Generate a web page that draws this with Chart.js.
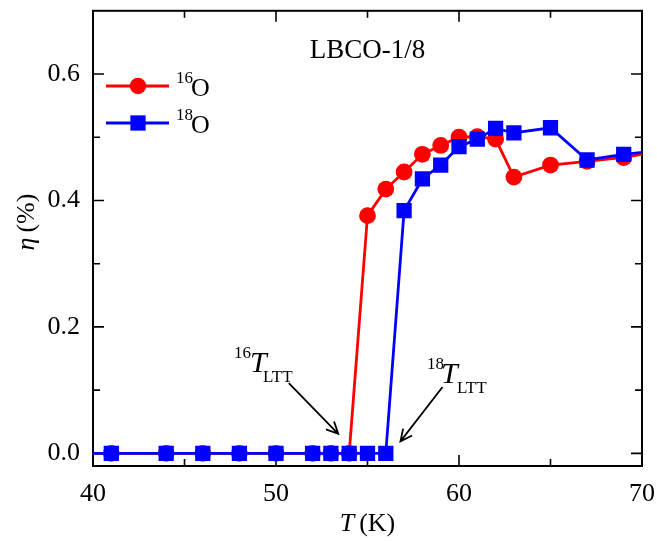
<!DOCTYPE html>
<html>
<head>
<meta charset="utf-8">
<script src="https://cdn.jsdelivr.net/npm/chart.js@4/dist/chart.umd.min.js"></script>
<style>
  html, body { margin: 0; padding: 0; background: #fff; }
  #wrap { width: 657px; height: 541px; }
</style>
</head>
<body>
<div id="wrap"><canvas id="etaChart" width="657" height="541"></canvas></div>
<script>
// temperature (K) and eta (%)
const temps = [38, 41, 44, 46, 48, 50, 52, 53, 54, 55, 56, 57, 58, 59, 60, 61, 62, 63, 65, 67, 69, 71];
const eta16O = [0, 0, 0, 0, 0, 0, 0, 0, 0, 0.376, 0.418, 0.445, 0.473, 0.487, 0.500, 0.501, 0.497, 0.437, 0.456, 0.462, 0.468, 0.478];
const eta18O = [0, 0, 0, 0, 0, 0, 0, 0, 0, 0, 0, 0.384, 0.434, 0.456, 0.485, 0.497, 0.514, 0.507, 0.515, 0.464, 0.473, 0.479];

const xTicks = [40, 50, 60, 70];
const xMinor = [45, 55, 65];
const yTicks = [0.0, 0.2, 0.4, 0.6];
const yMinor = [0.1, 0.3, 0.5];

const SERIF = "'Liberation Serif', 'Times New Roman', serif";

function toPoints(ys) {
  return temps.map((t, i) => ({ x: t, y: ys[i] }));
}

// draw a run of text pieces, each with its own font / baseline
function richText(ctx, parts, x, y) {
  ctx.textAlign = "left";
  ctx.textBaseline = "alphabetic";
  for (const p of parts) {
    ctx.font = p.font;
    const px = p.x !== undefined ? p.x : x;
    ctx.fillText(p.t, px, y + (p.dy || 0));
    x = px + ctx.measureText(p.t).width + (p.gap || 0);
  }
}

function richWidth(ctx, parts) {
  let w = 0;
  for (const p of parts) {
    ctx.font = p.font;
    w += ctx.measureText(p.t).width + (p.gap || 0);
  }
  return w;
}

function arrow(ctx, x1, y1, x2, y2) {
  const a = Math.atan2(y2 - y1, x2 - x1);
  const h = 13;
  ctx.beginPath();
  ctx.moveTo(x1, y1);
  ctx.lineTo(x2, y2);
  ctx.moveTo(x2 - h * Math.cos(a - 0.45), y2 - h * Math.sin(a - 0.45));
  ctx.lineTo(x2, y2);
  ctx.lineTo(x2 - h * Math.cos(a + 0.45), y2 - h * Math.sin(a + 0.45));
  ctx.stroke();
}

const frameAndTicks = {
  id: "frameAndTicks",
  beforeDatasetsDraw(chart) {
    const { ctx, chartArea: a, scales } = chart;
    ctx.save();
    ctx.strokeStyle = "#000";
    ctx.lineWidth = 2;
    ctx.strokeRect(a.left, a.top, a.right - a.left, a.bottom - a.top);
    ctx.lineWidth = 1.6;
    const tick = (v, len, axis) => {
      ctx.beginPath();
      if (axis === "x") {
        const px = scales.x.getPixelForValue(v);
        ctx.moveTo(px, a.bottom); ctx.lineTo(px, a.bottom - len);
        ctx.moveTo(px, a.top); ctx.lineTo(px, a.top + len);
      } else {
        const py = scales.y.getPixelForValue(v);
        ctx.moveTo(a.left, py); ctx.lineTo(a.left + len, py);
        ctx.moveTo(a.right, py); ctx.lineTo(a.right - len, py);
      }
      ctx.stroke();
    };
    xTicks.forEach(v => tick(v, 11, "x"));
    xMinor.forEach(v => tick(v, 7, "x"));
    yTicks.forEach(v => tick(v, 11, "y"));
    yMinor.forEach(v => tick(v, 7, "y"));
    ctx.restore();
  },
  afterDraw(chart) {
    const { ctx, chartArea: a, scales } = chart;
    const X = v => scales.x.getPixelForValue(v);
    const Y = v => scales.y.getPixelForValue(v);
    ctx.save();
    ctx.fillStyle = "#000";

    // axis titles
    const xt = [
      { t: "T", font: "italic 26px " + SERIF, gap: 5 },
      { t: "(K)", font: "26px " + SERIF }
    ];
    richText(ctx, xt, (a.left + a.right) / 2 - richWidth(ctx, xt) / 2, 531);
    const yt = [
      { t: "η", font: "italic 26px " + SERIF, gap: 5 },
      { t: "(%)", font: "26px " + SERIF }
    ];
    ctx.save();
    ctx.translate(34, 222);
    ctx.rotate(-Math.PI / 2);
    richText(ctx, yt, -richWidth(ctx, yt) / 2, 0);
    ctx.restore();

    // sample label
    ctx.font = "27px " + SERIF;
    ctx.textAlign = "center";
    ctx.textBaseline = "alphabetic";
    ctx.fillText("LBCO-1/8", (a.left + a.right) / 2, 58);

    // legend
    const leg = [
      { color: "#ff0000", style: "circle", r: 8.2, iso: "16", y: 86 },
      { color: "#0000ff", style: "rect", r: 10.8, iso: "18", y: 123 }
    ];
    for (const l of leg) {
      ctx.strokeStyle = l.color;
      ctx.fillStyle = l.color;
      ctx.lineWidth = 2.8;
      ctx.beginPath();
      ctx.moveTo(106, l.y); ctx.lineTo(169, l.y);
      ctx.stroke();
      Chart.helpers.drawPoint(ctx, { pointStyle: l.style, radius: l.r, borderWidth: 0 }, 138, l.y);
      ctx.fillStyle = "#000";
      richText(ctx, [
        { t: l.iso, font: "17px " + SERIF, dy: -13, x: 176 },
        { t: "O", font: "26px " + SERIF, x: 191 }
      ], 176, l.y + 9.5);
    }

    // transition markers
    ctx.fillStyle = "#000";
    richText(ctx, [
      { t: "16", font: "17px " + SERIF, dy: -14, x: 234 },
      { t: "T", font: "italic 30px " + SERIF, x: 250 },
      { t: "LTT", font: "17px " + SERIF, dy: 10, x: 263 }
    ], 234, 372);
    richText(ctx, [
      { t: "18", font: "17px " + SERIF, dy: -14, x: 427 },
      { t: "T", font: "italic 30px " + SERIF, x: 441 },
      { t: "LTT", font: "17px " + SERIF, dy: 10, x: 457 }
    ], 427, 383);

    ctx.strokeStyle = "#000";
    ctx.lineWidth = 1.8;
    arrow(ctx, X(50.7), Y(0.111), X(53.4), Y(0.031));
    arrow(ctx, X(59.1), Y(0.105), X(56.8), Y(0.019));
    ctx.restore();
  }
};

function buildChart() {
  new Chart(document.getElementById("etaChart").getContext("2d"), {
    type: "line",
    data: {
      datasets: [
        {
          label: "18O",
          data: toPoints(eta18O),
          borderColor: "#0000ff",
          backgroundColor: "#0000ff",
          borderWidth: 2.8,
          pointStyle: "rect",
          pointRadius: 10.8,
          pointBorderWidth: 0,
          tension: 0,
          clip: 0,
          order: 0
        },
        {
          label: "16O",
          data: toPoints(eta16O),
          borderColor: "#ff0000",
          backgroundColor: "#ff0000",
          borderWidth: 2.8,
          pointStyle: "circle",
          pointRadius: 8.4,
          pointBorderWidth: 0,
          tension: 0,
          clip: 0,
          order: 1
        }
      ]
    },
    options: {
      responsive: false,
      animation: false,
      layout: { padding: { left: 0, top: 6, right: 15, bottom: 0 } },
      plugins: {
        legend: { display: false },
        tooltip: { enabled: false }
      },
      scales: {
        x: {
          type: "linear",
          min: 40,
          max: 70,
          afterBuildTicks: s => { s.ticks = xTicks.map(v => ({ value: v })); },
          afterFit: s => { s.height = 75; s.paddingLeft = 0; s.paddingRight = 0; },
          grid: { display: false, drawTicks: false },
          border: { display: false },
          ticks: {
            padding: 13,
            color: "#000",
            font: { family: SERIF, size: 26 },
            callback: v => String(v)
          }
        },
        y: {
          type: "linear",
          min: -0.02,
          max: 0.7,
          afterBuildTicks: s => { s.ticks = yTicks.map(v => ({ value: v })); },
          afterFit: s => { s.width = 93; s.paddingTop = 0; s.paddingBottom = 0; },
          grid: { display: false, drawTicks: false },
          border: { display: false },
          ticks: {
            padding: 13,
            color: "#000",
            font: { family: SERIF, size: 26 },
            callback: v => v.toFixed(1)
          }
        }
      }
    },
    plugins: [frameAndTicks]
  });
}

Promise.all([
  document.fonts.load("26px 'Liberation Serif'"),
  document.fonts.load("italic 26px 'Liberation Serif'")
]).then(buildChart, buildChart);
</script>
</body>
</html>
